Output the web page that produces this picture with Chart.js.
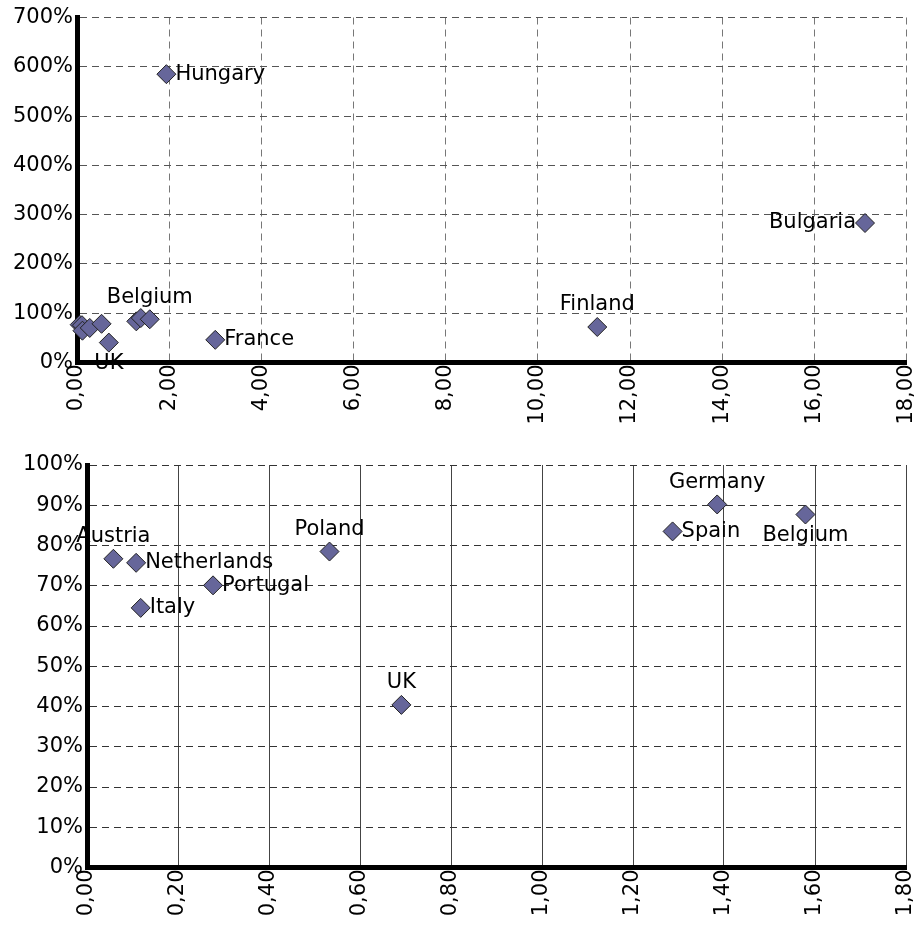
<!DOCTYPE html>
<html>
<head>
<meta charset="utf-8">
<script src="https://cdn.jsdelivr.net/npm/chart.js@4/dist/chart.umd.min.js"></script>
<style>
  body { margin: 0; background: #fff; width: 917px; height: 926px; overflow: hidden; }
  .box { position: absolute; left: 0; width: 917px; }
  #topBox { top: 0; height: 440px; }
  #bottomBox { top: 440px; height: 486px; }
</style>
</head>
<body>
<div class="box" id="topBox"><canvas id="topChart"></canvas></div>
<div class="box" id="bottomBox"><canvas id="bottomChart"></canvas></div>
<script>
// countries shown in both charts (bottom chart is the zoom on the low-x cluster)
const countries = ['Austria', 'Netherlands', 'Italy', 'Portugal', 'Poland', 'UK', 'Spain', 'Germany', 'Belgium'];
const xValues = [0.058, 0.108, 0.118, 0.277, 0.533, 0.691, 1.287, 1.385, 1.579];
const yValues = [76.7, 75.7, 64.5, 70.1, 78.5, 40.4, 83.5, 90.2, 87.7];

// extra countries only in the wide chart
const extraCountries = ['Hungary', 'Bulgaria', 'Finland', 'France'];
const extraX = [1.94, 17.1, 11.29, 3.0];
const extraY = [585, 283, 72, 46];

// label placement per point (blank = no label)
const topLabelPos = ['', '', '', '', '', 'below', '', '', 'above', 'right', 'left', 'above', 'right'];
const bottomLabelPos = ['above', 'right', 'right', 'right', 'above', 'above', 'right', 'above', 'below'];

const topXTicks = { min: 0, max: 18, step: 2 };
const topYTicks = { min: 0, max: 700, step: 100 };
const bottomXTicks = { min: 0, max: 1.8, step: 0.2 };
const bottomYTicks = { min: 0, max: 100, step: 10 };

const FONT = 'DejaVu Sans';
const FONT_SIZE = 21;
Chart.defaults.font.family = FONT;
Chart.defaults.font.size = FONT_SIZE;
Chart.defaults.color = '#000';

const pointLabels = {
  id: 'pointLabels',
  afterDatasetsDraw(chart, args, opts) {
    const ctx = chart.ctx;
    const meta = chart.getDatasetMeta(0);
    ctx.save();
    ctx.font = FONT_SIZE + 'px "' + FONT + '"';
    ctx.fillStyle = '#000';
    meta.data.forEach((pt, i) => {
      const pos = opts.pos[i];
      if (!pos) return;
      const name = opts.names[i];
      let x = pt.x, y = pt.y;
      ctx.textBaseline = 'middle';
      if (pos === 'right') { ctx.textAlign = 'left'; x += 9; }
      else if (pos === 'left') { ctx.textAlign = 'right'; x -= 9; }
      else if (pos === 'above') { ctx.textAlign = 'center'; y -= 22; }
      else { ctx.textAlign = 'center'; y += 21; }
      ctx.fillText(name, x, y);
    });
    ctx.restore();
  }
};

function noPad(s) {
  s.paddingLeft = 0;
  s.paddingRight = 0;
  s.paddingTop = 0;
  s.paddingBottom = 0;
}

function makeChart(id, names, xs, ys, pos, xt, yt, opt) {
  const points = xs.map((x, i) => ({ x: x, y: ys[i] }));
  return new Chart(document.getElementById(id), {
    type: 'scatter',
    data: {
      datasets: [{
        data: points,
        pointStyle: 'rectRot',
        pointRadius: 9.5,
        pointBackgroundColor: '#66669a',
        pointBorderColor: '#222',
        pointBorderWidth: 1,
        clip: false
      }]
    },
    options: {
      responsive: true,
      maintainAspectRatio: false,
      animation: false,
      events: [],
      layout: { padding: opt.padding },
      plugins: {
        legend: { display: false },
        tooltip: { enabled: false },
        pointLabels: { names: names, pos: pos }
      },
      scales: {
        x: {
          type: 'linear',
          min: xt.min,
          max: xt.max,
          afterFit: s => { s.height = opt.xHeight; noPad(s); },
          ticks: {
            stepSize: xt.step,
            maxRotation: 90,
            minRotation: 90,
            padding: 2,
            callback: v => Number(v).toFixed(2).replace('.', ',')
          },
          grid: {
            color: opt.xGridColor,
            lineWidth: 1,
            drawTicks: false
          },
          border: { color: '#000', width: 5, dash: opt.xDash }
        },
        y: {
          type: 'linear',
          min: yt.min,
          max: yt.max,
          afterFit: s => { s.width = opt.yWidth; noPad(s); },
          ticks: {
            stepSize: yt.step,
            padding: 4,
            callback: v => Math.round(v) + '%'
          },
          grid: {
            color: opt.yGridColor,
            lineWidth: 1,
            drawTicks: false
          },
          border: { color: '#000', width: 5, dash: [7, 5] }
        }
      }
    },
    plugins: [pointLabels]
  });
}

// wide chart with every country
makeChart('topChart',
  countries.concat(extraCountries),
  xValues.concat(extraX),
  yValues.concat(extraY),
  topLabelPos, topXTicks, topYTicks,
  { padding: { top: 17.5, right: 8, left: 0, bottom: 0 }, xHeight: 77.5, yWidth: 77,
    xGridColor: '#777', yGridColor: '#555', xDash: [7, 5] });

// zoomed chart
makeChart('bottomChart', countries, xValues, yValues,
  bottomLabelPos, bottomXTicks, bottomYTicks,
  { padding: { top: 25, right: 11, left: 0, bottom: 0 }, xHeight: 58.5, yWidth: 87,
    xGridColor: '#444', yGridColor: '#333', xDash: [] });
</script>
</body>
</html>
